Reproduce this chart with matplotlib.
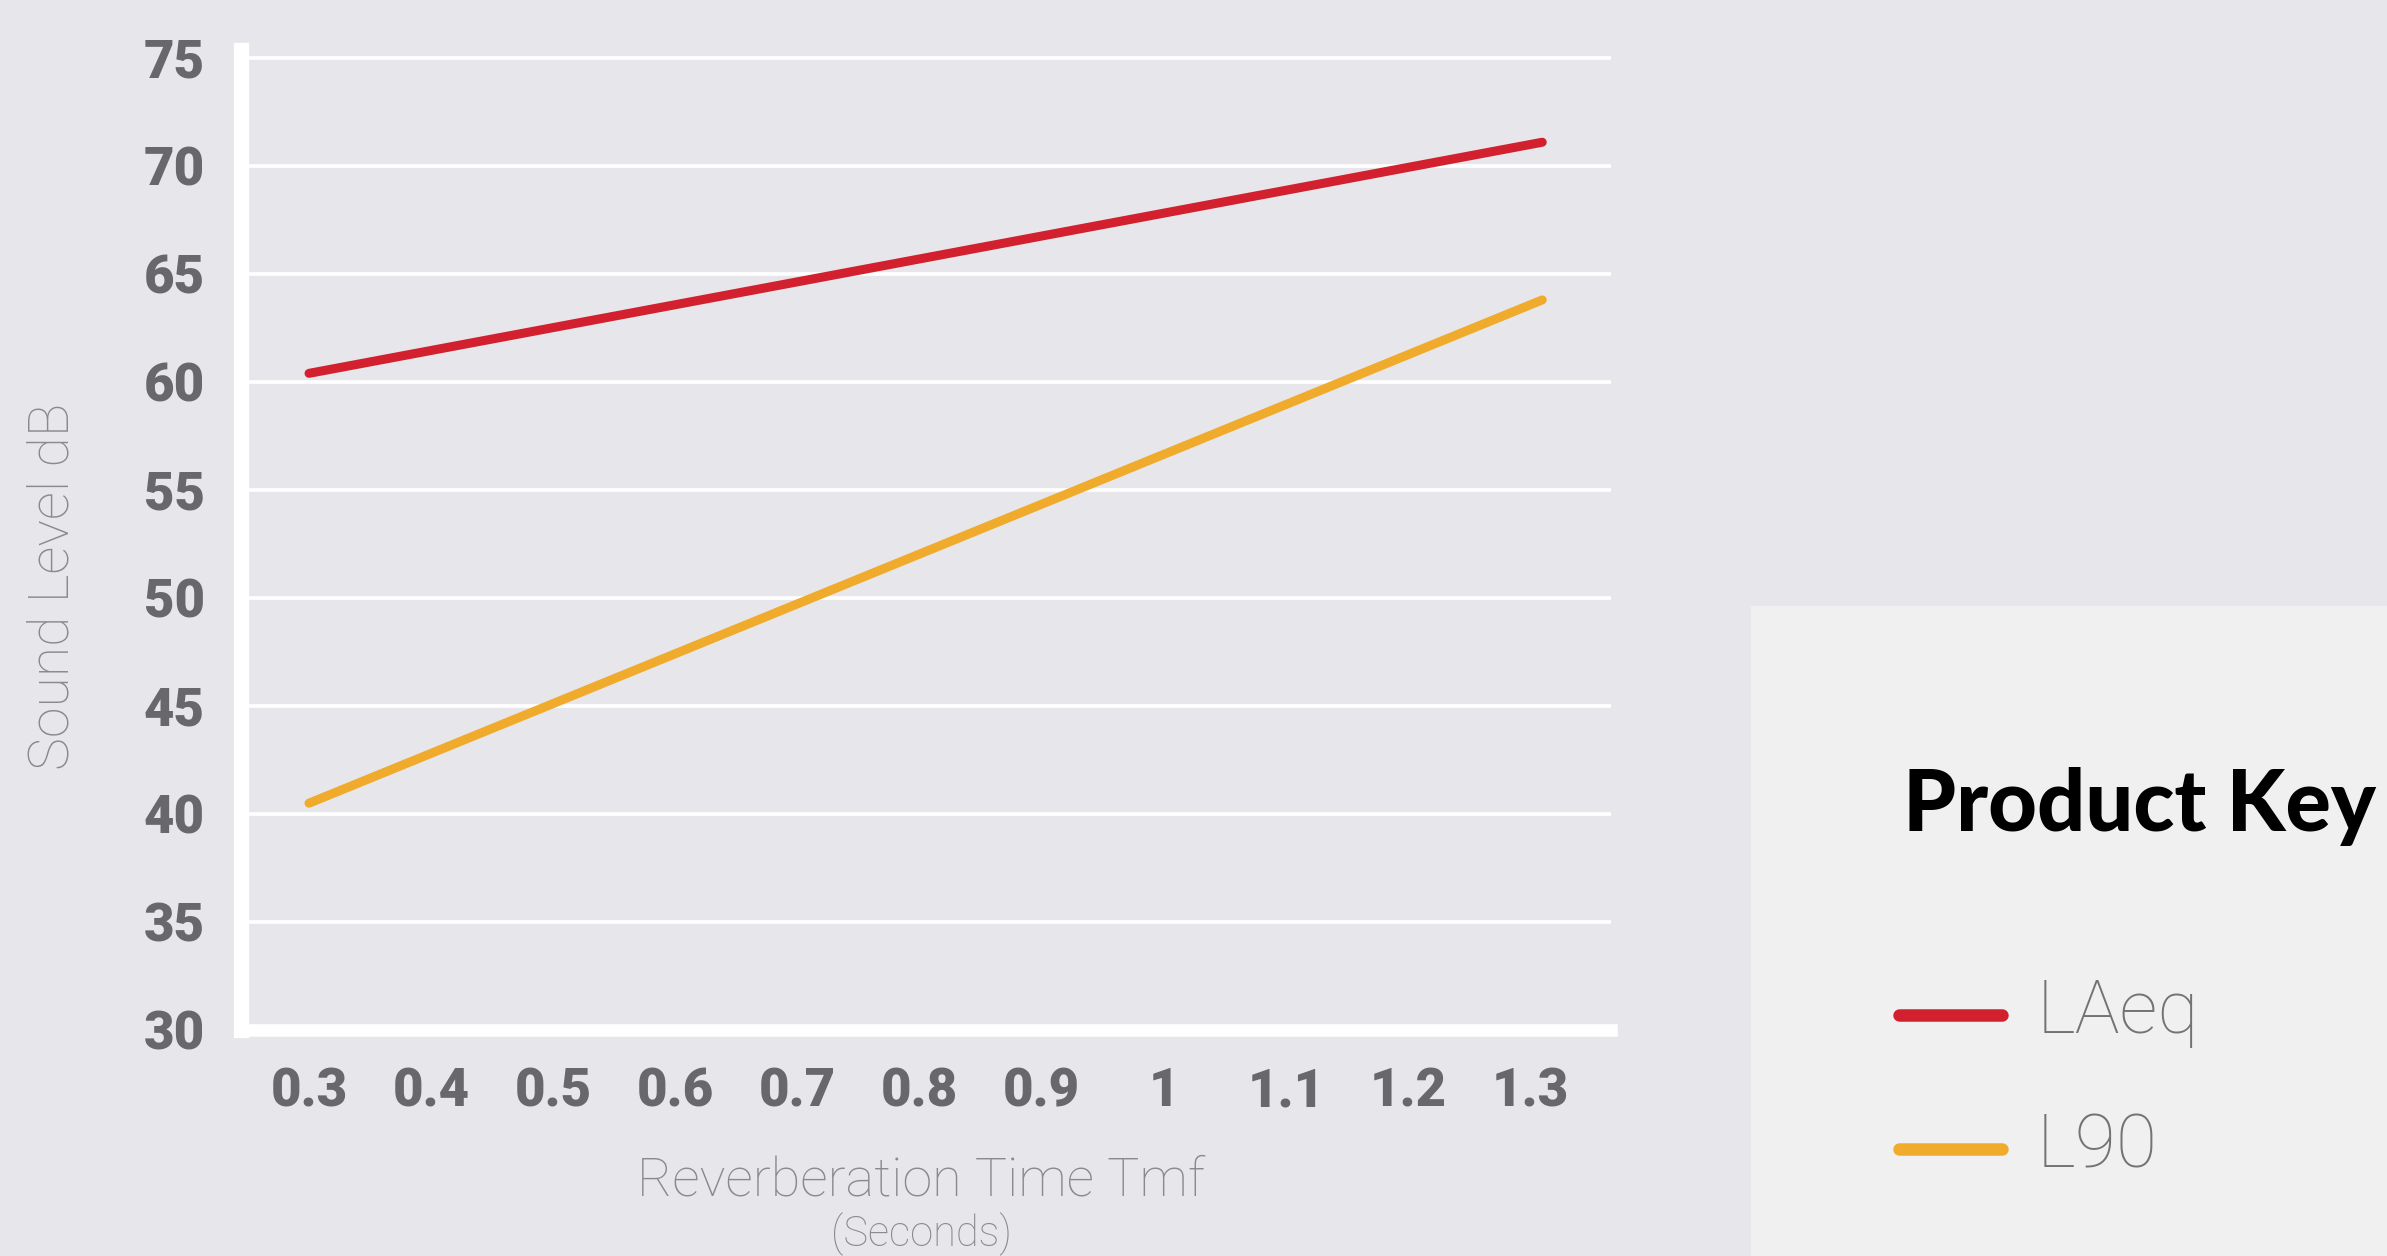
import matplotlib
matplotlib.use("Agg")
import matplotlib.pyplot as plt
from matplotlib.lines import Line2D
from matplotlib.patches import Rectangle

# Reverberation time (seconds) and measured sound levels (dB)
reverb_time = [0.3, 1.31]
laeq = [60.4, 71.1]
l90 = [40.5, 63.8]

x_ticks = [0.3, 0.4, 0.5, 0.6, 0.7, 0.8, 0.9, 1.0, 1.1, 1.2, 1.3]
x_tick_labels = ["0.3", "0.4", "0.5", "0.6", "0.7", "0.8", "0.9", "1", "1.1", "1.2", "1.3"]
y_ticks = [30, 35, 40, 45, 50, 55, 60, 65, 70, 75]

series_names = ["LAeq", "L90"]
series_colors = ["#d2202f", "#f0aa2c"]

BG = "#e7e7eb"
KEY_BG = "#f0f0f0"
TICK_GREY = "#68686c"
LABEL_GREY = "#8a8a8c"

W, H = 2387, 1256
fig = plt.figure(figsize=(W / 100, H / 100), dpi=100, facecolor=BG)

# axes box in pixel terms -> figure fractions
left, right, top, bottom = 241, 1611, 50, 1030
ax = fig.add_axes([left / W, 1 - bottom / H, (right - left) / W, (bottom - top) / H])
ax.set_facecolor(BG)

for name, vals, col in zip(series_names, [laeq, l90], series_colors):
    ax.plot(reverb_time, vals, color=col, lw=6.5, solid_capstyle="round", zorder=3, label=name)

ax.set_xlim(0.2443, 1.3663)
ax.set_ylim(30, 75.37)
ax.set_xticks(x_ticks)
ax.set_xticklabels(x_tick_labels)
ax.set_yticks(y_ticks)

ax.grid(axis="y", color="white", lw=2.6, zorder=1)
ax.grid(axis="x", visible=False)
ax.set_axisbelow(True)

for s in ["top", "right"]:
    ax.spines[s].set_visible(False)
ax.spines["left"].set_color("white")
ax.spines["left"].set_linewidth(11)
ax.spines["bottom"].set_color("white")
ax.spines["bottom"].set_linewidth(9)
ax.spines["left"].set_capstyle("projecting")

ax.tick_params(axis="both", length=0)
ax.tick_params(axis="y", pad=26)
ax.tick_params(axis="x", pad=26)
for lab in ax.get_xticklabels() + ax.get_yticklabels():
    lab.set_fontfamily("Roboto")
    lab.set_fontweight("black")
    lab.set_fontsize(38)
    lab.set_color(TICK_GREY)

# axis titles
fig.text(921 / W, 1 - 1181 / H, "Reverberation Time Tmf", ha="center", va="center",
         fontsize=39, family="Roboto", weight="light", color=LABEL_GREY)
fig.text(921 / W, 1 - 1234 / H, "(Seconds)", ha="center", va="center",
         fontsize=30, family="Roboto", weight="light", color=LABEL_GREY)
fig.text(53 / W, 1 - 586 / H, "Sound Level dB", ha="center", va="center", rotation=90,
         fontsize=40, family="Roboto", weight="light", color=LABEL_GREY)

# product key panel
fig.patches.append(Rectangle((1751 / W, 0), 1 - 1751 / W, 1 - 606 / H,
                             transform=fig.transFigure, facecolor=KEY_BG, edgecolor="none", zorder=0))
fig.text(1903 / W, 1 - 807 / H, "Product Key", ha="left", va="center",
         fontsize=61, family="Lato", weight="black", color="black")

key_rows = [1015, 1149]
for name, col, yy in zip(series_names, series_colors, key_rows):
    fig.lines.append(Line2D([1899 / W, 2002 / W], [1 - yy / H, 1 - yy / H],
                            transform=fig.transFigure, color=col, lw=9,
                            solid_capstyle="round"))
    fig.text(2037 / W, 1 - (yy - 2) / H, name, ha="left", va="center",
             fontsize=54, family="Roboto", weight="light", color="#737375")

fig.savefig("out.png", dpi=100, facecolor=BG)
